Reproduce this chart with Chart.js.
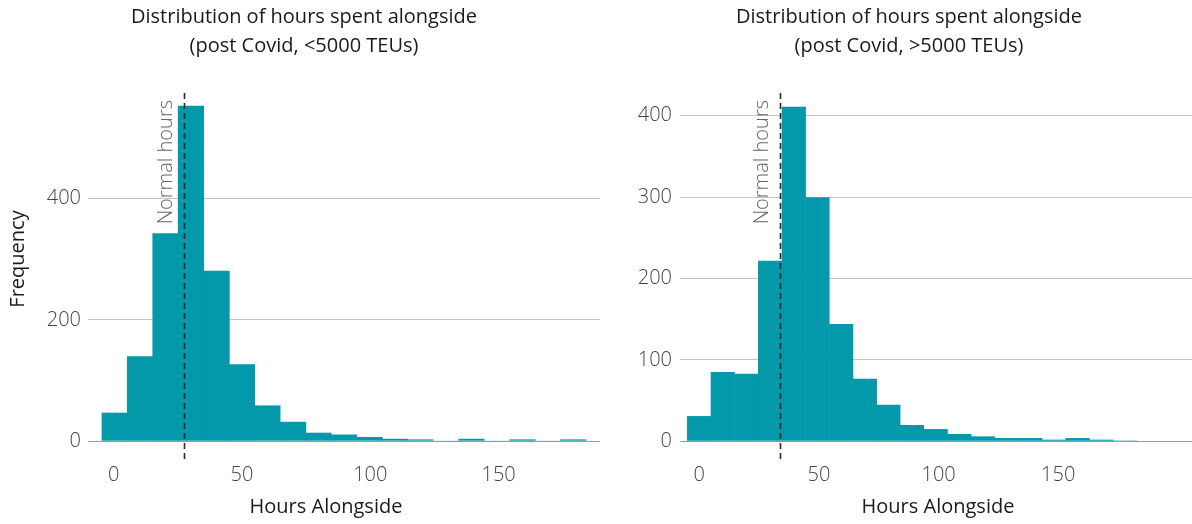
<!DOCTYPE html>
<html>
<head>
<meta charset="utf-8">
<script src="https://cdn.jsdelivr.net/npm/chart.js@4.4.1/dist/chart.umd.min.js"></script>
<style>
  html, body { margin: 0; padding: 0; background: #fff; }
  #wrap { position: relative; width: 1192px; height: 524px; }
  .pane { position: absolute; top: 0; height: 524px; }
  #leftPane { left: 0; width: 600px; }
  #rightPane { left: 600px; width: 592px; }
</style>
</head>
<body>
<div id="wrap">
  <div class="pane" id="leftPane"><canvas id="leftChart" width="600" height="524"></canvas></div>
  <div class="pane" id="rightPane"><canvas id="rightChart" width="592" height="524"></canvas></div>
</div>
<script>
// bin centres (hours) and counts
const smallBins = [0.4, 10.3, 20.2, 30.1, 40.1, 50.0, 59.9, 69.9, 79.8, 89.7, 99.7, 109.6, 119.5, 129.5, 139.4, 149.3, 159.3, 169.2, 179.1];
const smallCounts = [47, 140, 343, 553, 281, 127, 59, 32, 14, 11, 7, 4, 3, 1, 4, 1, 3, 1, 3];
const largeBins = [-0.06, 9.82, 19.7, 29.6, 39.5, 49.4, 59.3, 69.2, 79.0, 88.9, 98.8, 108.7, 118.6, 128.4, 138.3, 148.2, 158.1, 168.0, 177.9];
const largeCounts = [31, 85, 83, 222, 411, 300, 144, 77, 45, 20, 15, 9, 6, 4, 4, 2, 4, 2, 1];
const xTicks = [0, 50, 100, 150];
const smallYTicks = [0, 200, 400];
const largeYTicks = [0, 100, 200, 300, 400];
const smallNormalHours = 27.3;
const largeNormalHours = 33.7;

const FONT = "'Open Sans', 'Noto Sans', sans-serif";
const barColor = '#0398aa';

// draws titles, axis titles and the "Normal hours" marker
const annotate = {
  id: 'annotate',
  afterDatasetsDraw(chart, args, opts) {
    const { ctx, chartArea, scales } = chart;
    const px = Math.round(scales.x.getPixelForValue(opts.normal)) + 0.5;
    ctx.save();
    ctx.strokeStyle = '#2a2a2a';
    ctx.lineWidth = 1.6;
    ctx.setLineDash([6, 4]);
    ctx.beginPath();
    ctx.moveTo(px, chartArea.top);
    ctx.lineTo(px, chartArea.bottom);
    ctx.stroke();
    ctx.setLineDash([]);

    ctx.save();
    ctx.translate(px - 13, chartArea.top + 7);
    ctx.rotate(-Math.PI / 2);
    ctx.fillStyle = '#666';
    ctx.font = '300 20px ' + FONT;
    ctx.textAlign = 'right';
    ctx.textBaseline = 'alphabetic';
    ctx.fillText('Normal hours', 0, 0);
    ctx.restore();

    ctx.fillStyle = '#1a1a1a';
    ctx.font = '20px ' + FONT;
    ctx.textAlign = 'center';
    ctx.textBaseline = 'middle';
    ctx.fillText(opts.title[0], opts.titleX, 17);
    ctx.fillText(opts.title[1], opts.titleX, 46);
    ctx.fillText('Hours Alongside', opts.xlabelX, 507);

    if (opts.ylabel) {
      ctx.save();
      ctx.translate(18, 259);
      ctx.rotate(-Math.PI / 2);
      ctx.fillText(opts.ylabel, 0, 0);
      ctx.restore();
    }
    ctx.restore();
  }
};

function makeChart(id, bins, counts, yTicks, o) {
  return new Chart(document.getElementById(id), {
    type: 'bar',
    data: {
      datasets: [{
        data: bins.map((b, i) => ({ x: b, y: counts[i] })),
        backgroundColor: barColor,
        borderWidth: 0,
        barPercentage: 1.03,
        categoryPercentage: 1.0
      }]
    },
    options: {
      responsive: false,
      animation: false,
      layout: { padding: { top: 93, left: 0, right: 0, bottom: 0 } },
      plugins: {
        legend: { display: false },
        tooltip: { enabled: false },
        annotate: o.annot
      },
      scales: {
        x: {
          type: 'linear',
          min: o.xMin, max: o.xMax,
          offset: false,
          grid: { display: false, offset: false },
          border: { display: false },
          afterBuildTicks: s => { s.ticks = xTicks.map(v => ({ value: v })); },
          afterFit: s => { s.height = 64; },
          ticks: { color: '#444', padding: -5, font: { family: FONT, size: 20, weight: '300' } }
        },
        y: {
          min: o.yMin, max: o.yMax,
          grid: {
            drawTicks: false,
            color: c => c.tick.value === 0 ? '#9a9a9a' : '#c4c4c4',
            lineWidth: 1
          },
          border: { display: false },
          afterBuildTicks: s => { s.ticks = yTicks.map(v => ({ value: v })); },
          afterFit: s => { s.width = o.yWidth; },
          ticks: { color: '#444', padding: o.yPad, font: { family: FONT, size: 20, weight: '300' } }
        }
      }
    },
    plugins: [annotate]
  });
}

makeChart('leftChart', smallBins, smallCounts, smallYTicks, {
  xMin: -10, xMax: 189.5, yMin: -31, yMax: 574, yWidth: 88, yPad: 7,
  annot: {
    normal: smallNormalHours,
    title: ['Distribution of hours spent alongside', '(post Covid, <5000 TEUs)'],
    titleX: 304, xlabelX: 326, ylabel: 'Frequency'
  }
});

makeChart('rightChart', largeBins, largeCounts, largeYTicks, {
  xMin: -8.06, xMax: 205.9, yMin: -23, yMax: 428, yWidth: 80, yPad: 8,
  annot: {
    normal: largeNormalHours,
    title: ['Distribution of hours spent alongside', '(post Covid, >5000 TEUs)'],
    titleX: 309, xlabelX: 338, ylabel: null
  }
});
</script>
</body>
</html>
